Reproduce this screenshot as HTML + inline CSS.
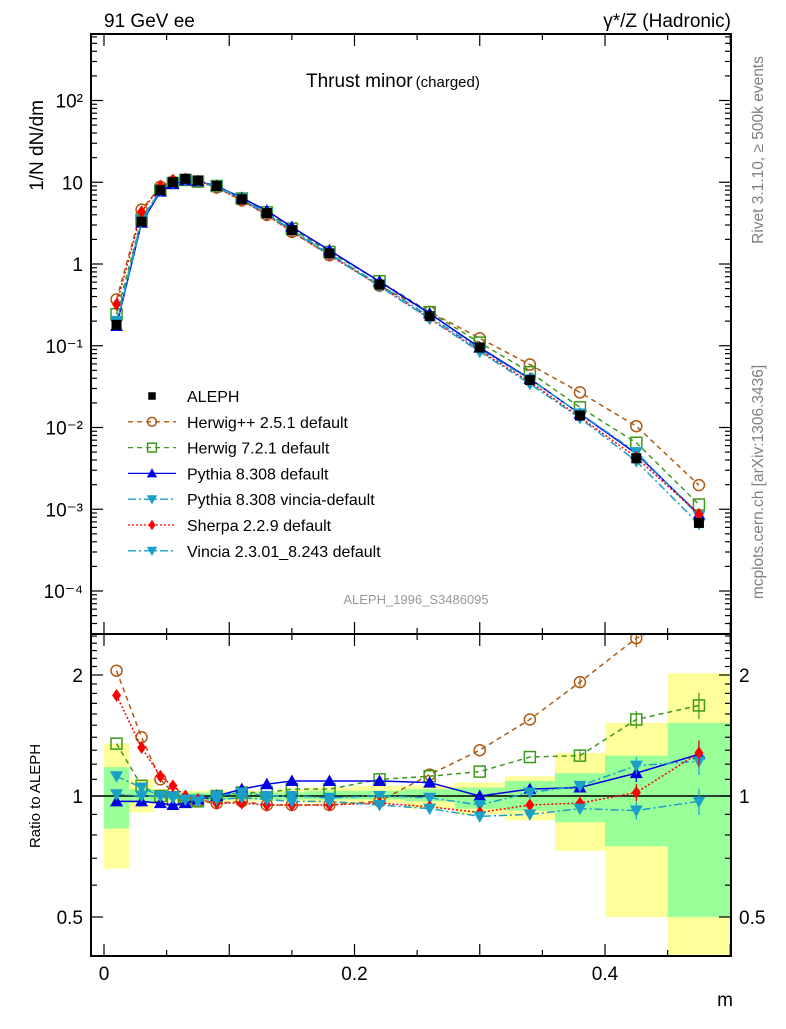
<!DOCTYPE html>
<html><head><meta charset="utf-8"><style>
body{margin:0;background:#fff;}
svg text{font-family:"Liberation Sans",sans-serif;}
</style></head><body>
<svg id="c" width="786" height="1024" viewBox="0 0 786 1024" xmlns="http://www.w3.org/2000/svg">
<text x="104" y="27" font-size="19">91 GeV ee</text>
<text x="731" y="27" font-size="19" text-anchor="end">γ*/Z (Hadronic)</text>
<text x="306" y="87" font-size="19">Thrust minor<tspan font-size="15" dx="3">(charged)</tspan></text>
<text transform="translate(43,100) rotate(-90)" font-size="19" text-anchor="end">1/N dN/dm</text>
<text transform="translate(40,796) rotate(-90)" font-size="15" text-anchor="middle">Ratio to ALEPH</text>
<text x="733" y="1006" font-size="19" text-anchor="end">m</text>
<text transform="translate(763,150) rotate(-90)" font-size="15.5" fill="#808080" text-anchor="middle">Rivet 3.1.10, ≥ 500k events</text>
<text transform="translate(763,482) rotate(-90)" font-size="15.5" fill="#808080" text-anchor="middle">mcplots.cern.ch [arXiv:1306.3436]</text>
<text x="416" y="604" font-size="13" fill="#999" text-anchor="middle">ALEPH_1996_S3486095</text>
<g id="bands"></g><g id="ratio"></g><g id="main"></g><g id="axes"></g><g id="legend"></g>
</svg>
<script>
const xc=[0.01,0.03,0.045,0.055,0.065,0.075,0.09,0.11,0.13,0.15,0.18,0.22,0.26,0.30,0.34,0.38,0.425,0.475];
const edges=[0,0.02,0.04,0.05,0.06,0.07,0.08,0.1,0.12,0.14,0.16,0.2,0.24,0.28,0.32,0.36,0.4,0.45,0.5];
const aleph=[0.18,3.3,8,10,11,10.5,9,6.2,4.2,2.6,1.35,0.56,0.23,0.095,0.038,0.014,0.0042,0.00068];
const bandYLo=[0.66,0.91,0.96,0.97,0.97,0.97,0.97,0.97,0.97,0.97,0.96,0.96,0.93,0.9,0.87,0.73,0.5,0.3];
const bandYHi=[1.35,1.10,1.04,1.03,1.03,1.03,1.03,1.03,1.03,1.04,1.05,1.06,1.06,1.08,1.12,1.28,1.52,2.02];
const bandGLo=[0.83,0.96,0.98,0.98,0.98,0.98,0.98,0.98,0.98,0.98,0.98,0.98,0.97,0.93,0.92,0.86,0.75,0.5];
const bandGHi=[1.18,1.04,1.02,1.02,1.02,1.02,1.02,1.02,1.02,1.02,1.03,1.03,1.04,1.05,1.09,1.14,1.26,1.52];
const rHerwigPP=[2.05,1.4,1.1,1.02,0.98,0.97,0.96,0.97,0.95,0.95,0.95,0.97,1.13,1.3,1.55,1.92,2.47,2.9];
const rHerwig7=[1.35,1.06,1.0,0.98,0.97,0.97,1.0,1.02,1.02,1.04,1.04,1.1,1.12,1.15,1.25,1.26,1.55,1.68];
const rPythia=[0.97,0.97,0.96,0.95,0.96,0.98,1.0,1.04,1.07,1.09,1.09,1.09,1.08,1.0,1.04,1.05,1.14,1.27];
const rPythiaV=[1.12,1.05,1.0,1.0,0.98,0.98,1.0,1.02,1.0,1.0,0.99,1.0,0.99,0.95,1.02,1.06,1.19,1.22];
const rSherpa=[1.78,1.32,1.12,1.06,1.0,0.98,0.96,0.96,0.95,0.95,0.95,0.96,0.94,0.91,0.95,0.96,1.02,1.28];
const rVincia=[1.01,1.0,1.0,0.99,0.98,0.97,0.98,0.99,0.98,0.97,0.97,0.95,0.93,0.89,0.9,0.93,0.92,0.97];
const mainTicks=["10⁻⁴","10⁻³","10⁻²","10⁻¹","1","10","10²"];
const xTickLabels=["0","0.2","0.4"];
const ratioTickLabels=["0.5","1","2"];

const NS="http://www.w3.org/2000/svg";
const L=91,R=731,T=34,MB=634,RB=956;
const X=v=>104+v*1252.5;
const Ym=v=>264-Math.log10(v)*81.75;
const Yr=v=>796-Math.log2(v)*121;
function el(tag,attrs,parent){const e=document.createElementNS(NS,tag);for(const k in attrs)e.setAttribute(k,attrs[k]);parent.appendChild(e);return e;}
const G=id=>document.getElementById(id);
const defs=el('defs',{},G('c'));
const cm=el('clipPath',{id:'cm'},defs);el('rect',{x:L,y:T,width:R-L,height:MB-T},cm);
const cr=el('clipPath',{id:'cr'},defs);el('rect',{x:L,y:MB,width:R-L,height:RB-MB},cr);
G('bands').setAttribute('clip-path','url(#cr)');G('ratio').setAttribute('clip-path','url(#cr)');G('main').setAttribute('clip-path','url(#cm)');
for(let i=0;i<xc.length;i++){
 const y=el('rect',{x:X(edges[i]),y:Yr(bandYHi[i]),width:X(edges[i+1])-X(edges[i]),height:Yr(bandYLo[i])-Yr(bandYHi[i]),fill:'#ffff99'},G('bands'));
 
 
 const g=el('rect',{x:X(edges[i]),y:Yr(bandGHi[i]),width:X(edges[i+1])-X(edges[i]),height:Yr(bandGLo[i])-Yr(bandGHi[i]),fill:'#99ff99'},G('bands'));
 
 
}
el('line',{x1:L,x2:R,y1:Yr(1),y2:Yr(1),stroke:'#000','stroke-width':1.5},G('ratio'));
const series=[
 {name:'Herwig++ 2.5.1 default',r:rHerwigPP,c:'#b05a10',dash:'5,4',m:'circle',w:1.5},
 {name:'Herwig 7.2.1 default',r:rHerwig7,c:'#3c9a1a',dash:'5,4',m:'square',w:1.5},
 {name:'Pythia 8.308 default',r:rPythia,c:'#0000e6',dash:'',m:'up',w:1.5},
 {name:'Pythia 8.308 vincia-default',r:rPythiaV,c:'#1aa0c8',dash:'8,3,2,3',m:'down',w:1.5},
 {name:'Sherpa 2.2.9 default',r:rSherpa,c:'#ff0000',dash:'2,2',m:'diamond',w:1.5},
 {name:'Vincia 2.3.01_8.243 default',r:rVincia,c:'#1aa0c8',dash:'8,3,2,3',m:'down',w:1.5}];
function marker(m,x,y,c,p,s){
 s=s||1;let e;
 if(m==='circle')e=el('circle',{cx:x,cy:y,r:5.5*s,fill:'none',stroke:c,'stroke-width':1.5},p);
 else if(m==='square')e=el('rect',{x:x-5.5*s,y:y-5.5*s,width:11*s,height:11*s,fill:'none',stroke:c,'stroke-width':1.5},p);
 else if(m==='up')e=el('path',{d:`M${x},${y-6.5*s}L${x+6.5*s},${y+5*s}L${x-6.5*s},${y+5*s}Z`,fill:c},p);
 else if(m==='down')e=el('path',{d:`M${x},${y+6.5*s}L${x+6.5*s},${y-5*s}L${x-6.5*s},${y-5*s}Z`,fill:c},p);
 else if(m==='diamond')e=el('path',{d:`M${x},${y-6.5*s}L${x+4.5*s},${y}L${x},${y+6.5*s}L${x-4.5*s},${y}Z`,fill:c},p);
 else e=el('rect',{x:x-5*s,y:y-5*s,width:10*s,height:10*s,fill:c},p);
 return e;}
series.forEach(s=>{
 const pm=xc.map((x,i)=>X(x)+','+Ym(aleph[i]*s.r[i])).join(' ');
 const pr=xc.map((x,i)=>X(x)+','+Yr(s.r[i])).join(' ');
 const a=el('polyline',{points:pm,fill:'none',stroke:s.c,'stroke-width':s.w,'stroke-dasharray':s.dash},G('main'));
 
 
 const b=el('polyline',{points:pr,fill:'none',stroke:s.c,'stroke-width':s.w,'stroke-dasharray':s.dash},G('ratio'));
 
 
 xc.forEach((x,i)=>{
  if(i>=15){const d=s.r[i]*0.025*(i-14);
   el('line',{x1:X(x),x2:X(x),y1:Yr(s.r[i]+d),y2:Yr(s.r[i]-d),stroke:s.c,'stroke-width':1.2},G('ratio'));}
  const m1=marker(s.m,X(x),Ym(aleph[i]*s.r[i]),s.c,G('main'));
  
  
  const m2=marker(s.m,X(x),Yr(s.r[i]),s.c,G('ratio'));
  
  
 });
});
xc.forEach((x,i)=>{const m=marker('sq',X(x),Ym(aleph[i]),'#000',G('main'));
 
 });
const ax=G('axes');
el('rect',{x:L,y:T,width:R-L,height:MB-T,fill:'none',stroke:'#000','stroke-width':2},ax);
el('rect',{x:L,y:MB,width:R-L,height:RB-MB,fill:'none',stroke:'#000','stroke-width':2},ax);
for(let d=-5;d<=2;d++){for(let k=1;k<10;k++){const v=k*Math.pow(10,d);const y=Ym(v);if(y<T||y>MB)continue;const len=k===1?12:6;
 el('line',{x1:L,x2:L+len,y1:y,y2:y,stroke:'#000','stroke-width':1.2},ax);el('line',{x1:R,x2:R-len,y1:y,y2:y,stroke:'#000','stroke-width':1.2},ax);}}
mainTicks.forEach((t,i)=>{const e=el('text',{x:L-8,y:Ym(Math.pow(10,i-4))+7,'font-size':19,'text-anchor':'end'},ax);e.textContent=t;
 
 });
[0.4,0.5,0.6,0.7,0.8,0.9,1,1.1,1.2,1.3,1.4,1.5,1.6,1.7,1.8,1.9,2,2.1,2.2,2.3,2.4,2.5].forEach(v=>{const y=Yr(v);if(y<MB||y>RB)return;const len=(v===0.5||v===1||v===2)?12:6;
 el('line',{x1:L,x2:L+len,y1:y,y2:y,stroke:'#000','stroke-width':1.2},ax);el('line',{x1:R,x2:R-len,y1:y,y2:y,stroke:'#000','stroke-width':1.2},ax);});
ratioTickLabels.forEach(t=>{const v=parseFloat(t);[[L-8,'end'],[R+8,'start']].forEach(([x,a])=>{const e=el('text',{x:x,y:Yr(v)+7,'font-size':19,'text-anchor':a},ax);e.textContent=t;
 
 });});
for(let k=0;k<=10;k++){const v=k*0.05;const x=X(v);const len=k%2===0?12:6;
 [T,MB].forEach(y0=>el('line',{x1:x,x2:x,y1:y0,y2:y0+len,stroke:'#000','stroke-width':1.2},ax));
 el('line',{x1:x,x2:x,y1:MB,y2:MB-len,stroke:'#000','stroke-width':1.2},ax);
 el('line',{x1:x,x2:x,y1:RB,y2:RB-len,stroke:'#000','stroke-width':1.2},ax);}
xTickLabels.forEach(t=>{const e=el('text',{x:X(parseFloat(t)),y:RB+24,'font-size':19,'text-anchor':'middle'},ax);e.textContent=t;
 
 });
const lg=G('legend');
const names=['ALEPH'].concat(series.map(s=>s.name));
names.forEach((n,i)=>{const y=396+i*25.8;const g=el('g',{},lg);
 
 
 if(i===0)marker('sq',152,y,'#000',g,0.75);
 else{const s=series[i-1];el('line',{x1:128,x2:176,y1:y,y2:y,stroke:s.c,'stroke-width':1.3,'stroke-dasharray':s.dash},g);marker(s.m,152,y,s.c,g,0.8);}
 const t=el('text',{x:187,y:y+6,'font-size':16},g);t.textContent=n;});
</script>
</body></html>
